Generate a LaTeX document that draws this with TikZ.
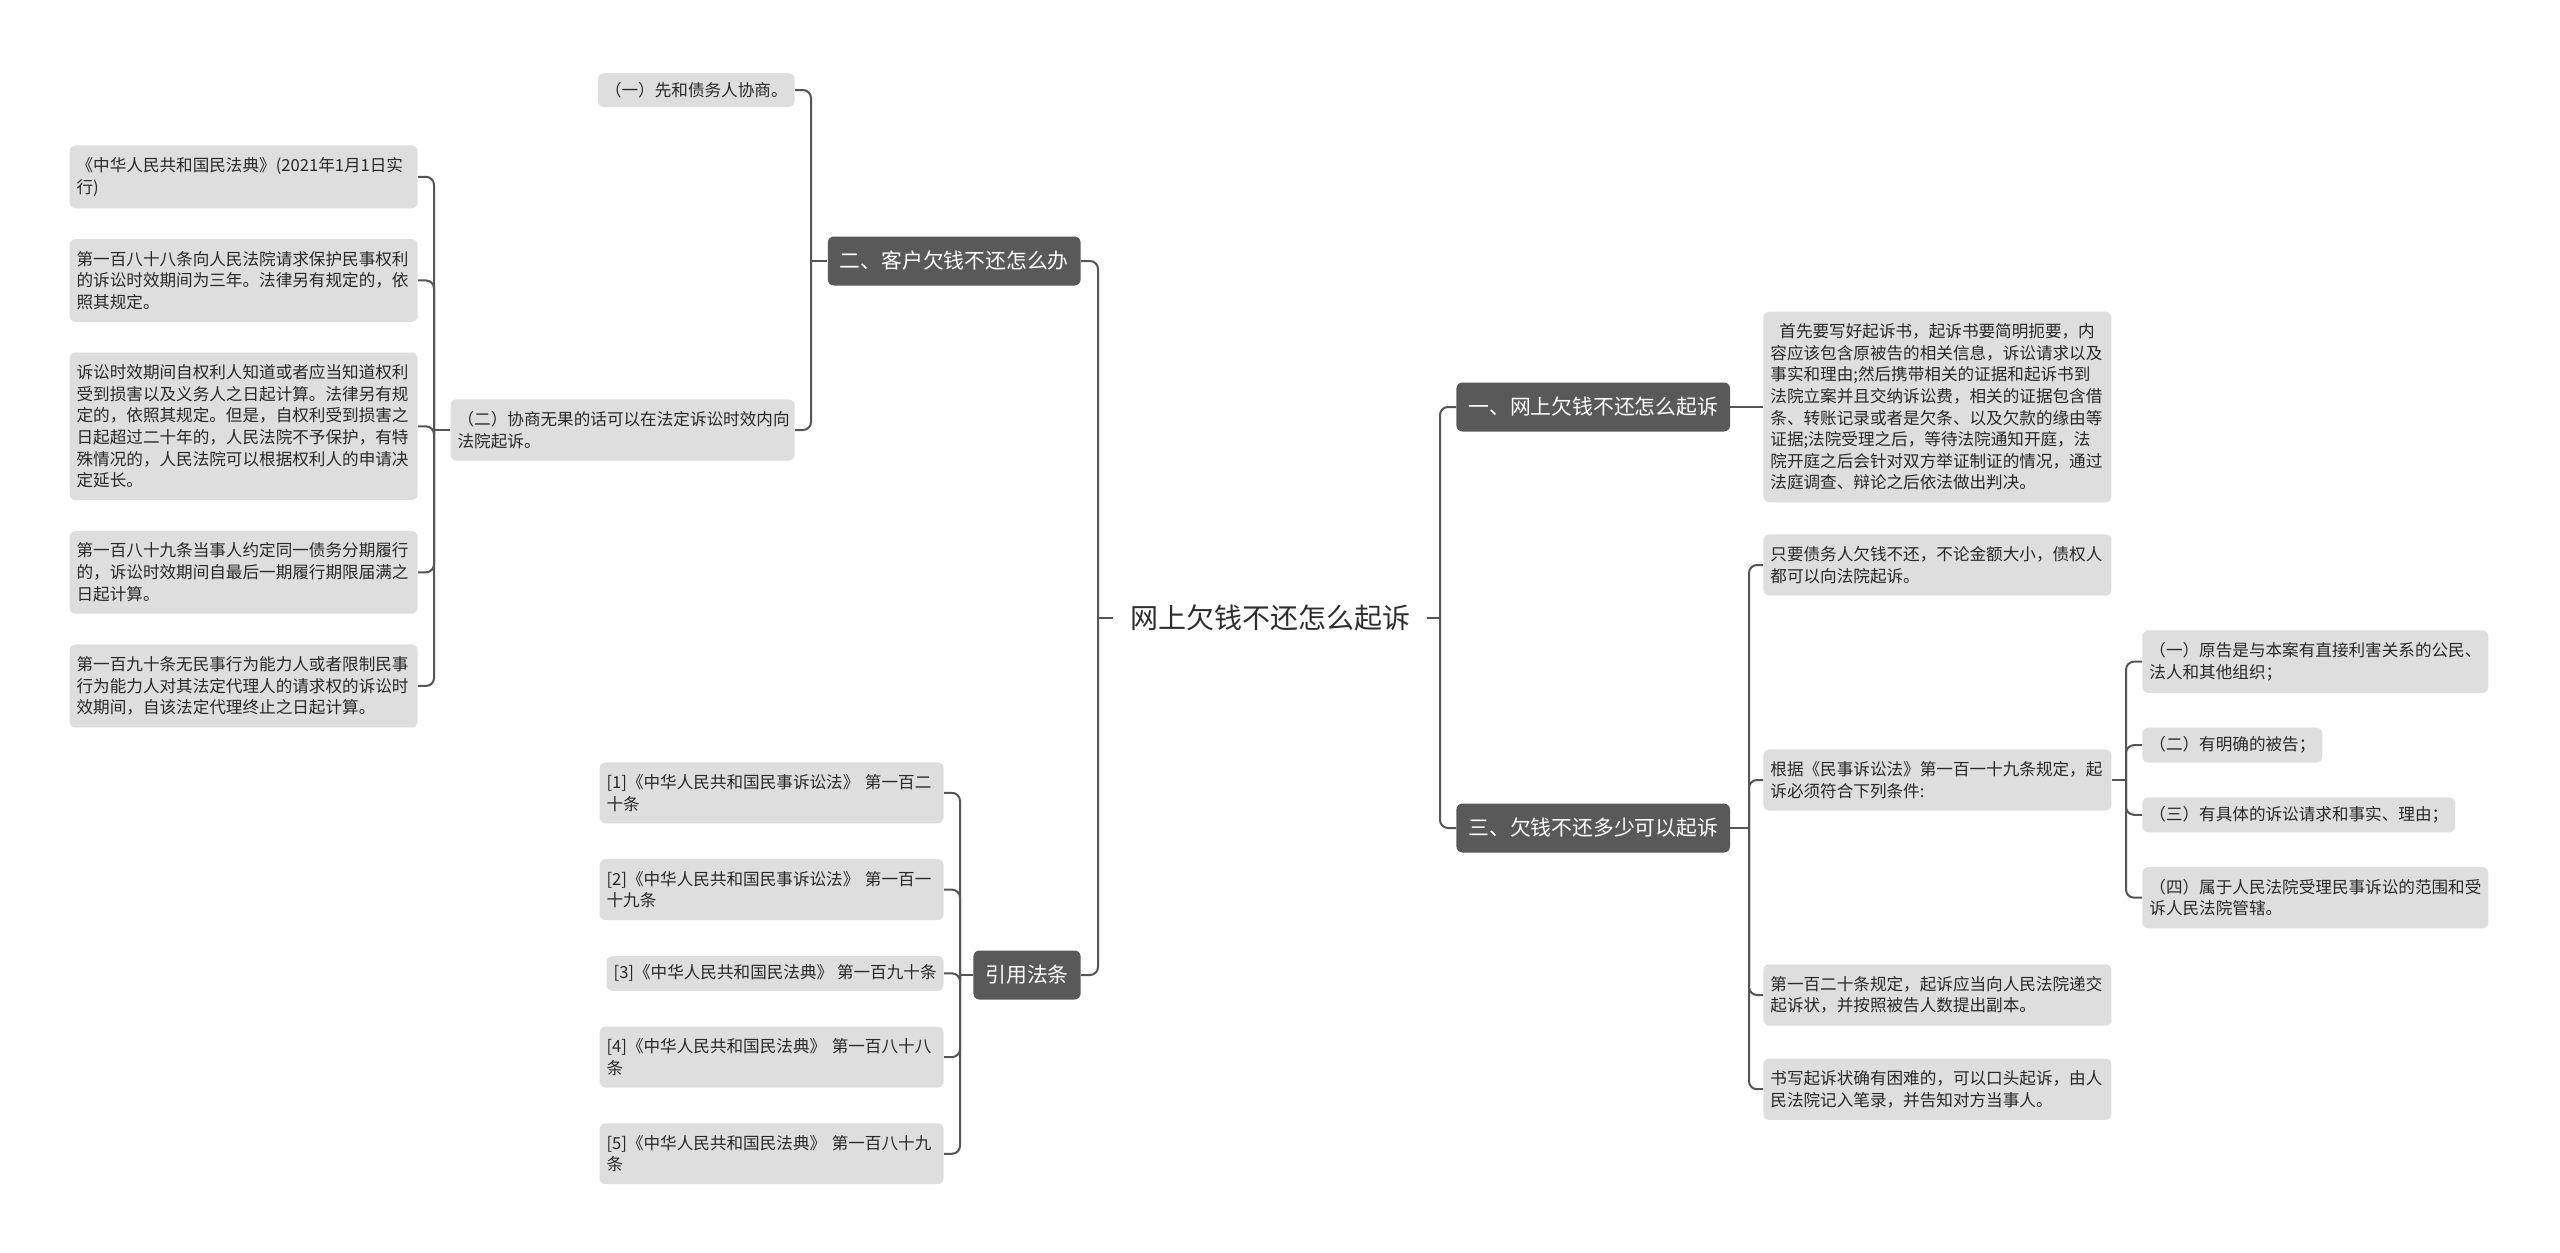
\documentclass[tikz,border=0pt]{standalone}
\usepackage{fontspec}
\setmainfont{Noto Sans CJK SC}
\usepackage{tikz}
\usetikzlibrary{positioning}
\definecolor{branchgray}{RGB}{89,89,89}
\definecolor{leafgray}{RGB}{222,222,222}
\definecolor{linegray}{RGB}{85,85,85}
\definecolor{roottext}{RGB}{45,45,45}
\definecolor{leaftext}{RGB}{40,40,40}
\tikzset{
  rootnode/.style={
    inner xsep=8.5pt, inner ysep=4pt,
    font=\fontsize{14}{17}\selectfont\color{roottext}
  },
  branchbox/.style={
    fill=branchgray, rounded corners=3pt,
    inner xsep=6pt, minimum height=24.5pt,
    font=\fontsize{10.4}{12.5}\selectfont\color{white}
  },
  leafbox/.style={
    fill=leafgray, rounded corners=3pt,
    inner xsep=3.5pt, inner ysep=4.5pt, align=left,
    font=\fontsize{8.3}{10.8}\selectfont\color{leaftext}
  },
  widebox/.style={leafbox, inner ysep=6pt, text width=167pt},
  citebox/.style={leafbox, inner ysep=6pt, text width=165pt},
  linkline/.style={
    draw=linegray, line width=1pt, rounded corners=4pt
  },
}

\begin{document}
\begin{tikzpicture}[x=0.5pt, y=-0.5pt]

  \useasboundingbox (0,0) rectangle (2560,1253);

  %% Root
  \node[rootnode] (root) at (1270,618) {网上欠钱不还怎么起诉};

  %% Main branches
  \node[branchbox, anchor=east] (b2) at (1081,261) {二、客户欠钱不还怎么办};
  \node[branchbox, anchor=east] (b4) at (1081,975) {引用法条};
  \node[branchbox, anchor=west] (b1) at (1456,407) {一、网上欠钱不还怎么起诉};
  \node[branchbox, anchor=west] (b3) at (1456,828) {三、欠钱不还多少可以起诉};

  \coordinate (jl) at (1098,618);
  \coordinate (jr) at (1440,618);
  \draw[linkline] (root.west) -- (jl);
  \draw[linkline] (jl) |- (b2.east);
  \draw[linkline] (jl) |- (b4.east);
  \draw[linkline] (root.east) -- (jr);
  \draw[linkline] (jr) |- (b1.west);
  \draw[linkline] (jr) |- (b3.west);

  %% Under b2
  \node[leafbox, anchor=east] (c21) at (795,90) {（一）先和债务人协商。};
  \node[citebox, anchor=east] (c22) at (795,430)
    {（二）协商无果的话可以在法定诉讼时效内向\\法院起诉。};

  \coordinate (jb2) at (811,261);
  \draw[linkline] (b2.west) -- (jb2);
  \draw[linkline] (jb2) |- (c21.east);
  \draw[linkline] (jb2) |- (c22.east);

  %% Statutes under c22
  \node[widebox, anchor=north east] (l1) at (418,145)
    {《中华人民共和国民法典》(2021年1月1日实\\行)};
  \node[widebox, below=15pt of l1] (l2)
    {第一百八十八条向人民法院请求保护民事权利\\的诉讼时效期间为三年。法律另有规定的，依\\照其规定。};
  \node[widebox, below=15pt of l2] (l3)
    {诉讼时效期间自权利人知道或者应当知道权利\\受到损害以及义务人之日起计算。法律另有规\\定的，依照其规定。但是，自权利受到损害之\\日起超过二十年的，人民法院不予保护，有特\\殊情况的，人民法院可以根据权利人的申请决\\定延长。};
  \node[widebox, below=15pt of l3] (l4)
    {第一百八十九条当事人约定同一债务分期履行\\的，诉讼时效期间自最后一期履行期限届满之\\日起计算。};
  \node[widebox, below=15pt of l4] (l5)
    {第一百九十条无民事行为能力人或者限制民事\\行为能力人对其法定代理人的请求权的诉讼时\\效期间，自该法定代理终止之日起计算。};

  \coordinate (jc22) at (434,430);
  \draw[linkline] (c22.west) -- (jc22);
  \foreach \n in {l1,l2,l3,l4,l5}
    \draw[linkline] (jc22) |- (\n.east);

  %% Citations under b4
  \node[citebox, anchor=north east] (r1) at (944,762)
    {[1]《中华人民共和国民事诉讼法》~第一百二\\十条};
  \node[citebox, below=17.5pt of r1.south east, anchor=north east] (r2)
    {[2]《中华人民共和国民事诉讼法》~第一百一\\十九条};
  \node[leafbox, below=17.5pt of r2.south east, anchor=north east] (r3)
    {[3]《中华人民共和国民法典》~第一百九十条};
  \node[citebox, below=17.5pt of r3.south east, anchor=north east] (r4)
    {[4]《中华人民共和国民法典》~第一百八十八\\条};
  \node[citebox, below=17.5pt of r4.south east, anchor=north east] (r5)
    {[5]《中华人民共和国民法典》~第一百八十九\\条};

  \coordinate (jb4) at (960,975);
  \draw[linkline] (b4.west) -- (jb4);
  \foreach \n in {r1,r2,r3,r4,r5}
    \draw[linkline] (jb4) |- (\n.east);

  %% Under b1
  \node[widebox, anchor=west] (d1) at (1763,407)
    {\hspace{4.5pt}首先要写好起诉书，起诉书要简明扼要，内\\容应该包含原被告的相关信息，诉讼请求以及\\事实和理由;然后携带相关的证据和起诉书到\\法院立案并且交纳诉讼费，相关的证据包含借\\条、转账记录或者是欠条、以及欠款的缘由等\\证据;法院受理之后，等待法院通知开庭，法\\院开庭之后会针对双方举证制证的情况，通过\\法庭调查、辩论之后依法做出判决。};
  \draw[linkline] (b1.east) -- (d1.west);

  %% Under b3
  \node[widebox, anchor=west] (e1) at (1763,565)
    {只要债务人欠钱不还，不论金额大小，债权人\\都可以向法院起诉。};
  \node[widebox, anchor=west] (e2) at (1763,780)
    {根据《民事诉讼法》第一百一十九条规定，起\\诉必须符合下列条件:};
  \node[widebox, anchor=west] (e3) at (1763,995)
    {第一百二十条规定，起诉应当向人民法院递交\\起诉状，并按照被告人数提出副本。};
  \node[widebox, below=16pt of e3] (e4)
    {书写起诉状确有困难的，可以口头起诉，由人\\民法院记入笔录，并告知对方当事人。};

  \coordinate (jb3) at (1749,828);
  \draw[linkline] (b3.east) -- (jb3);
  \foreach \n in {e1,e2,e3,e4}
    \draw[linkline] (jb3) |- (\n.west);

  %% Conditions under e2
  \node[leafbox, inner ysep=6pt, text width=166pt, anchor=north west] (f1) at (2142,630)
    {（一）原告是与本案有直接利害关系的公民、\\法人和其他组织；};
  \node[leafbox, below=17pt of f1.south west, anchor=north west] (f2)
    {（二）有明确的被告；};
  \node[leafbox, below=17pt of f2.south west, anchor=north west] (f3)
    {（三）有具体的诉讼请求和事实、理由；};
  \node[leafbox, inner ysep=6pt, text width=166pt, below=17pt of f3.south west, anchor=north west] (f4)
    {（四）属于人民法院受理民事诉讼的范围和受\\诉人民法院管辖。};

  \coordinate (je2) at (2126,780);
  \draw[linkline] (e2.east) -- (je2);
  \foreach \n in {f1,f2,f3,f4}
    \draw[linkline] (je2) |- (\n.west);

\end{tikzpicture}
\end{document}
